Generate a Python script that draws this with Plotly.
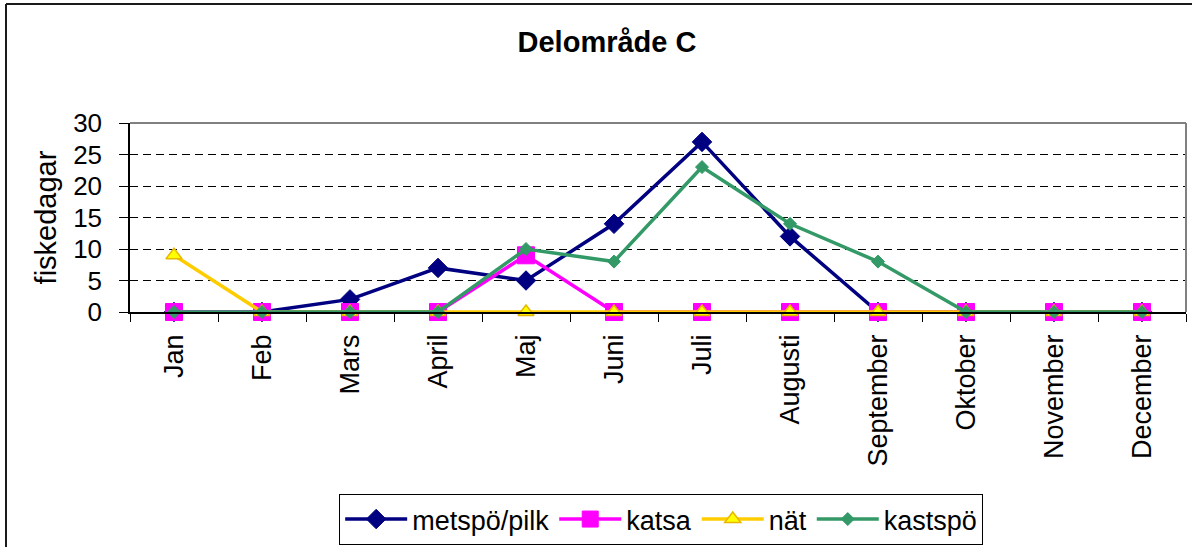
import plotly.graph_objects as go

months = ["Jan", "Feb", "Mars", "April", "Maj", "Juni", "Juli", "Augusti",
          "September", "Oktober", "November", "December"]
metspo_pilk = [0, 0, 2, 7, 5, 14, 27, 12, 0, 0, 0, 0]
katsa = [0, 0, 0, 0, 9, 0, 0, 0, 0, 0, 0, 0]
nat = [9, 0, 0, 0, 0, 0, 0, 0, 0, 0, 0, 0]
kastspo = [0, 0, 0, 0, 10, 8, 23, 14, 8, 0, 0, 0]
y_ticks = [0, 5, 10, 15, 20, 25, 30]

FONT = "Liberation Sans, Arial, sans-serif"

fig = go.Figure()
fig.add_trace(go.Scatter(
    x=months, y=metspo_pilk, name="metspö/pilk", mode="lines+markers",
    line=dict(color="#000080", width=3.5),
    marker=dict(symbol="diamond", size=15, color="#000080",
                line=dict(color="#000080", width=1)),
    cliponaxis=False))
fig.add_trace(go.Scatter(
    x=months, y=katsa, name="katsa", mode="lines+markers",
    line=dict(color="#FF00FF", width=3.5),
    marker=dict(symbol="square", size=17, color="#FF00FF",
                line=dict(color="#FF00FF", width=1)),
    cliponaxis=False))
fig.add_trace(go.Scatter(
    x=months, y=nat, name="nät", mode="lines+markers",
    line=dict(color="#FFCC00", width=3.5),
    marker=dict(symbol="triangle-up", size=14, color="#FFFF00",
                line=dict(color="#E6B800", width=1.5)),
    cliponaxis=False))
fig.add_trace(go.Scatter(
    x=months, y=kastspo, name="kastspö", mode="lines+markers",
    line=dict(color="#339966", width=3.5),
    marker=dict(symbol="diamond", size=10, color="#339966",
                line=dict(color="#339966", width=1)),
    cliponaxis=False))

fig.update_layout(
    width=1192, height=547,
    margin=dict(l=130, r=6, t=123, b=235, autoexpand=False),
    paper_bgcolor="white", plot_bgcolor="white",
    font=dict(family=FONT, size=26, color="black"),
    title=dict(text="<b>Delområde C</b>", font=dict(family=FONT, size=29, color="black"),
               x=607 / 1192, xref="container", xanchor="center",
               y=1 - 42 / 547, yref="container", yanchor="middle"),
    showlegend=True,
    legend=dict(orientation="h", x=0.503, xanchor="center", y=(312 - 494) / 189, yanchor="top",
                bordercolor="black", borderwidth=1, bgcolor="white",
                font=dict(family=FONT, size=27, color="black"),
                itemwidth=62, tracegroupgap=0),
)

fig.update_xaxes(
    type="category", categoryorder="array", categoryarray=months,
    range=[-0.5, 11.5], showline=True, linecolor="black", linewidth=1.5,
    ticks="outside", tickson="boundaries", ticklen=8, tickcolor="black",
    tickangle=-90, tickfont=dict(family=FONT, size=27, color="black"),
    ticklabelstandoff=10, automargin=False,
    showgrid=False, zeroline=False,
)
fig.update_yaxes(
    range=[0, 30], tickvals=y_ticks, showline=True, linecolor="black", linewidth=1.5,
    ticks="outside", ticklen=9, tickcolor="black",
    tickfont=dict(family=FONT, size=26, color="black"),
    ticklabelstandoff=12, automargin=False,
    showgrid=True, gridcolor="black", gridwidth=1, griddash="8px,5px",
    zeroline=False,
    title=dict(text="fiskedagar", font=dict(family=FONT, size=29, color="black"), standoff=8),
)

# plot-area border (top & right, gray)
fig.add_shape(type="line", xref="x domain", yref="y domain", x0=0, x1=1, y0=1, y1=1,
              line=dict(color="#808080", width=2), layer="above")
fig.add_shape(type="line", xref="x domain", yref="y domain", x0=1, x1=1, y0=0, y1=1,
              line=dict(color="#808080", width=2), layer="above")
# chart outer border (left & top visible)
L = (6 - 130) / 1056
T = (312 - 4) / 189
fig.add_shape(type="line", xref="paper", yref="paper", x0=L, x1=L, y0=-1.5, y1=T,
              line=dict(color="#1a1a1a", width=2), layer="above")
fig.add_shape(type="line", xref="paper", yref="paper", x0=L, x1=1.2, y0=T, y1=T,
              line=dict(color="#1a1a1a", width=2), layer="above")

fig.write_html("out.html",
               config={"displayModeBar": False},
               post_script="document.body.style.margin='0px';document.body.style.overflow='hidden';")
